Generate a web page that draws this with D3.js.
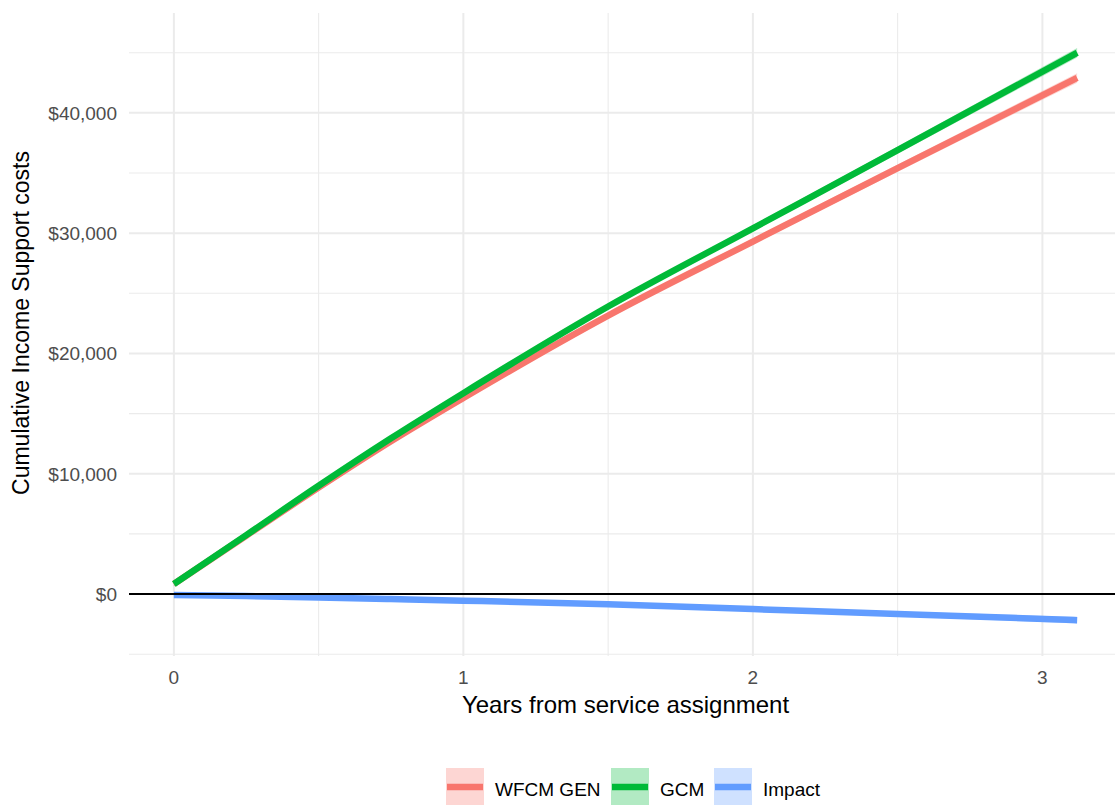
<!DOCTYPE html>
<html>
<head>
<meta charset="utf-8">
<script src="https://cdn.jsdelivr.net/npm/d3@7"></script>
<style>
  html, body { margin: 0; padding: 0; background: #ffffff; overflow: hidden; }
  svg { display: block; font-family: "Liberation Sans", Arial, sans-serif; }
</style>
</head>
<body>
<svg id="chart" width="1115" height="805"></svg>
<script>
// Smoothed cumulative income support costs by years from service assignment
const years = [0, 0.25, 0.5, 0.75, 1, 1.5, 2, 2.5, 3.12];

const wfcmGen      = [830, 4850, 8850, 12700, 16300, 23150, 29300, 35400, 42900];
const wfcmGenLower = [650, 4700, 8700, 12550, 16150, 22950, 29050, 35100, 42500];
const wfcmGenUpper = [1010, 5000, 9000, 12850, 16450, 23350, 29550, 35700, 43300];

const gcm      = [830, 4900, 9000, 12950, 16700, 23900, 30400, 36900, 45000];
const gcmLower = [650, 4750, 8850, 12800, 16550, 23700, 30150, 36600, 44600];
const gcmUpper = [1010, 5050, 9150, 13100, 16850, 24100, 30650, 37200, 45400];

const impact      = [-80, -170, -280, -410, -550, -850, -1250, -1650, -2170];
const impactLower = [-150, -240, -360, -490, -640, -960, -1390, -1840, -2450];
const impactUpper = [-10, -100, -200, -330, -460, -740, -1110, -1460, -1890];

const seriesNames = ["WFCM GEN", "GCM", "Impact"];
const seriesColors = ["#F8766D", "#00BA38", "#619CFF"];

const xMajorTicks = [0, 1, 2, 3];
const xMinorTicks = [0.5, 1.5, 2.5];
const yMajorTicks = [0, 10000, 20000, 30000, 40000];
const yMinorTicks = [-5000, 5000, 15000, 25000, 35000, 45000];

const xTitle = "Years from service assignment";
const yTitle = "Cumulative Income Support costs";

// Expanded panel domains (data range plus padding)
const xDomain = [-0.155, 3.275];
const yDomain = [-5150, 48300];

const panel = { left: 129, right: 1122, top: 13, bottom: 656 };

const svg = d3.select("#chart");

const x = d3.scaleLinear().domain(xDomain).range([panel.left, panel.right]);
const y = d3.scaleLinear().domain(yDomain).range([panel.bottom, panel.top]);

const gridColor = "#ebebeb";
const grid = svg.append("g");

// minor grid
grid.selectAll("line.ym").data(yMinorTicks).join("line")
  .attr("x1", panel.left).attr("x2", panel.right)
  .attr("y1", d => y(d)).attr("y2", d => y(d))
  .attr("stroke", gridColor).attr("stroke-width", 1.1);
grid.selectAll("line.xm").data(xMinorTicks).join("line")
  .attr("y1", panel.top).attr("y2", panel.bottom)
  .attr("x1", d => x(d)).attr("x2", d => x(d))
  .attr("stroke", gridColor).attr("stroke-width", 1.1);
// major grid
grid.selectAll("line.yM").data(yMajorTicks).join("line")
  .attr("x1", panel.left).attr("x2", panel.right)
  .attr("y1", d => y(d)).attr("y2", d => y(d))
  .attr("stroke", gridColor).attr("stroke-width", 2);
grid.selectAll("line.xM").data(xMajorTicks).join("line")
  .attr("y1", panel.top).attr("y2", panel.bottom)
  .attr("x1", d => x(d)).attr("x2", d => x(d))
  .attr("stroke", gridColor).attr("stroke-width", 2);

const series = [
  { name: seriesNames[0], color: seriesColors[0], mid: wfcmGen, lo: wfcmGenLower, hi: wfcmGenUpper },
  { name: seriesNames[1], color: seriesColors[1], mid: gcm, lo: gcmLower, hi: gcmUpper },
  { name: seriesNames[2], color: seriesColors[2], mid: impact, lo: impactLower, hi: impactUpper }
];

const area = d3.area()
  .x((d, i) => x(years[i]))
  .y0(d => y(d[0]))
  .y1(d => y(d[1]))
  .curve(d3.curveMonotoneX);

const line = d3.line()
  .x((d, i) => x(years[i]))
  .y(d => y(d))
  .curve(d3.curveMonotoneX);

const marks = svg.append("g");

// confidence ribbons
series.forEach(s => {
  marks.append("path")
    .datum(s.lo.map((v, i) => [v, s.hi[i]]))
    .attr("d", area)
    .attr("fill", s.color)
    .attr("fill-opacity", 0.3);
});

// fitted lines
series.forEach(s => {
  marks.append("path")
    .datum(s.mid)
    .attr("d", line)
    .attr("fill", "none")
    .attr("stroke", s.color)
    .attr("stroke-width", 6.5);
});

// zero reference line
svg.append("line")
  .attr("x1", panel.left).attr("x2", panel.right)
  .attr("y1", y(0)).attr("y2", y(0))
  .attr("stroke", "#000").attr("stroke-width", 2);

// axis tick labels
const fmt = d3.format("$,");
svg.append("g").selectAll("text").data(yMajorTicks).join("text")
  .attr("x", 117).attr("y", d => y(d)).attr("dy", "0.36em")
  .attr("text-anchor", "end")
  .attr("font-size", 19).attr("fill", "#4d4d4d")
  .text(d => fmt(d));

svg.append("g").selectAll("text").data(xMajorTicks).join("text")
  .attr("x", d => x(d)).attr("y", 684)
  .attr("text-anchor", "middle")
  .attr("font-size", 19).attr("fill", "#4d4d4d")
  .text(d => d);

// axis titles
svg.append("text")
  .attr("x", (panel.left + panel.right) / 2).attr("y", 713)
  .attr("text-anchor", "middle")
  .attr("font-size", 24).attr("fill", "#000")
  .text(xTitle);

svg.append("text")
  .attr("transform", "translate(29,323) rotate(-90)")
  .attr("text-anchor", "middle")
  .attr("font-size", 23).attr("fill", "#000")
  .text(yTitle);

// legend
const legendKeys = [446, 611, 714];
const legend = svg.append("g");
series.forEach((s, i) => {
  const kx = legendKeys[i];
  legend.append("rect")
    .attr("x", kx).attr("y", 768).attr("width", 38).attr("height", 38)
    .attr("fill", s.color).attr("fill-opacity", 0.3);
  legend.append("line")
    .attr("x1", kx + 1).attr("x2", kx + 37)
    .attr("y1", 787).attr("y2", 787)
    .attr("stroke", s.color).attr("stroke-width", 6.5);
  legend.append("text")
    .attr("x", kx + 49).attr("y", 796)
    .attr("font-size", 19).attr("fill", "#000")
    .text(s.name);
});
</script>
</body>
</html>
